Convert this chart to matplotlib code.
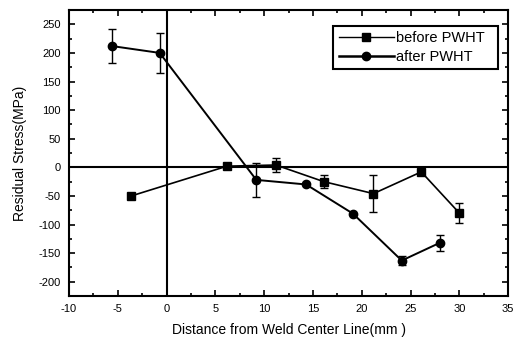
import matplotlib
matplotlib.use("Agg")
import matplotlib.pyplot as plt
from matplotlib.ticker import MultipleLocator
from matplotlib.lines import Line2D

plt.rcParams['font.family'] = ['Liberation Sans', 'DejaVu Sans']
plt.rcParams['axes.unicode_minus'] = False

before_x = [-3.6, 6.2, 11.2, 16.1, 21.2, 26.1, 30.0]
before_y = [-50, 2, 4, -25, -46, -8, -80]
before_err = [0, 0, 12, 11, 32, 0, 18]

after_x = [-5.6, -0.7, 9.2, 14.3, 19.1, 24.1, 28.0]
after_y = [212, 200, -22, -30, -81, -163, -132]
after_err = [30, 35, 30, 0, 0, 8, 14]

fig = plt.figure(figsize=(5.18, 3.45), dpi=100)
ax = fig.add_axes([0.133, 0.142, 0.848, 0.829])

ax.axhline(0, color='black', lw=1.5, zorder=1)
ax.axvline(0, color='black', lw=1.5, zorder=1)

ax.errorbar(before_x, before_y, yerr=before_err, color='black', marker='s',
            markersize=6, lw=1.2, capsize=3, elinewidth=1, capthick=1, zorder=3)
ax.errorbar(after_x, after_y, yerr=after_err, color='black', marker='o',
            markersize=6, lw=1.4, capsize=3, elinewidth=1, capthick=1, zorder=3)

ax.set_xlim(-10, 35)
ax.set_ylim(-225, 275)
ax.xaxis.set_major_locator(MultipleLocator(5))
ax.xaxis.set_minor_locator(MultipleLocator(2.5))
ax.yaxis.set_minor_locator(MultipleLocator(25))
ax.set_yticks(list(range(-200, 251, 50)))
ax.tick_params(which='both', direction='in', top=True, right=True, labelsize=8, width=1.2)
ax.tick_params(which='major', length=4, pad=6)
ax.tick_params(which='minor', length=2.5)
for s in ax.spines.values():
    s.set_linewidth(1.5)

ax.set_xlabel('Distance from Weld Center Line(mm )', fontsize=10, labelpad=6)
ax.set_ylabel('Residual Stress(MPa)', fontsize=10, labelpad=8)

handles = [Line2D([], [], color='black', marker='s', markersize=6, lw=1.0),
           Line2D([], [], color='black', marker='o', markersize=6, lw=1.8)]
leg = ax.legend(handles, ['before PWHT  ', 'after PWHT  '], loc='upper right',
                bbox_to_anchor=(0.977, 0.944), fontsize=10.5,
                fancybox=False, edgecolor='black', framealpha=1,
                handlelength=3.8, borderpad=0.35, labelspacing=0.35, handletextpad=0.15,
                borderaxespad=0)
leg.get_frame().set_linewidth(1.5)

fig.savefig('out.png', dpi=100)
